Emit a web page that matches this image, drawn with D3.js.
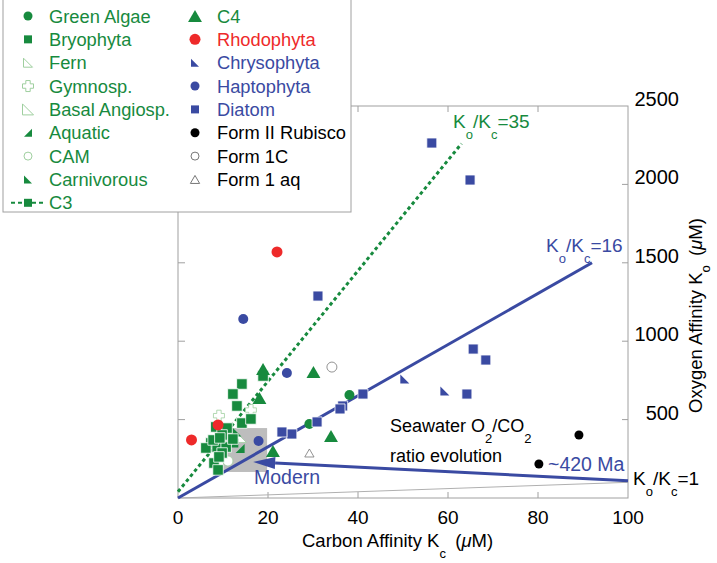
<!DOCTYPE html>
<html><head><meta charset="utf-8">
<script src="https://cdn.jsdelivr.net/npm/d3@7"></script>
<style>body{margin:0;background:#fff}svg{display:block;font-family:"Liberation Sans",Arial,sans-serif}</style>
</head><body>
<svg id="c" width="717" height="563"></svg>
<script>
// ---- data ----
const xTicks = [0, 20, 40, 60, 80, 100];
const yTicks = [500, 1000, 1500, 2000, 2500];
const greenAlgae = [[38.1, 657], [29.2, 472]];
const bryophyta = [[14.2, 727], [12.2, 663], [13.1, 587], [18.9, 778]];
const c3 = [[14.2, 478], [16.2, 504], [8.4, 453], [10.9, 446], [9.8, 402], [7.3, 351], [6.2, 319], [8.7, 325], [10.7, 325], [9.8, 287], [8.0, 223], [8.9, 179], [7.8, 370], [12.2, 376], [9.3, 383], [9.1, 262]];
const fern = [[14.2, 383]];
const gymnosp = [[9.1, 525], [16.2, 561]];
const aquatic = [[13.8, 315], [12.4, 350]];
const cam = [[11.1, 236]];
const carnivorous = [[13.1, 421]];
const c4 = [[30.1, 804], [34.0, 395], [21.1, 300], [18.1, 638], [18.9, 823]];
const rhodophyta = [[22.0, 1569], [3.0, 370], [8.9, 466]];
const chrysophyta = [[50.4, 759], [59.3, 682]];
const haptophyta = [[14.5, 1142], [24.2, 797], [17.9, 363]];
const diatom = [[56.4, 2264], [64.9, 2028], [31.1, 1288], [65.6, 950], [68.4, 880], [64.2, 663], [41.1, 663], [36.6, 587], [36.0, 568], [30.9, 485], [25.3, 408], [23.1, 421]];
const formII = [[89.1, 402], [80.2, 217]];
const form1C = [[34.2, 835]];
const form1aq = [[29.2, 287]];
const line35 = [[0, 40], [63, 2260]];
const line16 = [[0, 0], [92, 1500]];
const line1 = [[0, 0], [100, 100]];
const seawaterArrow = [[100, 110], [16.7, 230]];
const modernBox = [[10, 446], [19.8, 166]];

// ---- styling ----
const GREEN = "#178a3e", LGREEN = "#9fcf9f", BLUE = "#3a4aa2", RED = "#ee2a2a";
const svg = d3.select("#c");
const x = d3.scaleLinear().domain([0, 100]).range([178, 628]);
const y = d3.scaleLinear().domain([0, 2500]).range([498, 106]);

const P = {
  circle: r => `M${-r},0A${r},${r} 0 1,0 ${r},0A${r},${r} 0 1,0 ${-r},0Z`,
  square: s => `M${-s/2},${-s/2}H${s/2}V${s/2}H${-s/2}Z`,
  tri: s => `M0,${-s*0.5}L${s*0.58},${s*0.5}L${-s*0.58},${s*0.5}Z`,
  aq: s => `M${s/2},${-s/2}L${s/2},${s/2}L${-s/2},${s/2}Z`,
  carn: s => `M${-s/2},${-s/2}L${-s/2},${s/2}L${s/2},${s/2}Z`,
  cross: s => { const a = s/2, b = s/5; return `M${-b},${-a}H${b}V${-b}H${a}V${b}H${b}V${a}H${-b}V${b}H${-a}V${-b}H${-b}Z`; }
};
const groups = [
  {name: "Green Algae", data: greenAlgae, shape: "circle", size: 5, fill: GREEN, stroke: "none", tc: GREEN, ls: 4.5},
  {name: "Bryophyta", data: bryophyta, shape: "square", size: 10.5, fill: GREEN, stroke: "#fff", tc: GREEN, ls: 8},
  {name: "Fern", data: fern, shape: "carn", size: 9, fill: "#fff", stroke: LGREEN, tc: GREEN, ls: 9},
  {name: "Gymnosp.", data: gymnosp, shape: "cross", size: 11, fill: "#fff", stroke: LGREEN, tc: GREEN, ls: 11},
  {name: "Basal Angiosp.", data: [], shape: "carn", size: 11, fill: "#fff", stroke: LGREEN, tc: GREEN, ls: 11},
  {name: "Aquatic", data: aquatic, shape: "aq", size: 9, fill: GREEN, stroke: "none", tc: GREEN, ls: 8},
  {name: "CAM", data: cam, shape: "circle", size: 5, fill: "#fff", stroke: LGREEN, tc: GREEN, ls: 4},
  {name: "Carnivorous", data: carnivorous, shape: "carn", size: 9, fill: GREEN, stroke: "none", tc: GREEN, ls: 8},
  {name: "C3", data: c3, shape: "square", size: 10.5, fill: GREEN, stroke: "#fff", tc: GREEN, ls: 8, dash: true},
  {name: "C4", data: c4, shape: "tri", size: 12, fill: GREEN, stroke: "none", tc: GREEN, ls: 12},
  {name: "Rhodophyta", data: rhodophyta, shape: "circle", size: 5.5, fill: RED, stroke: "none", tc: RED, ls: 5.5},
  {name: "Chrysophyta", data: chrysophyta, shape: "carn", size: 9, fill: BLUE, stroke: "none", tc: BLUE, ls: 8},
  {name: "Haptophyta", data: haptophyta, shape: "circle", size: 5, fill: BLUE, stroke: "none", tc: BLUE, ls: 4.5},
  {name: "Diatom", data: diatom, shape: "square", size: 10, fill: BLUE, stroke: "#fff", tc: BLUE, ls: 8},
  {name: "Form II Rubisco", data: formII, shape: "circle", size: 4.5, fill: "#000", stroke: "none", tc: "#000", ls: 4.5},
  {name: "Form 1C", data: form1C, shape: "circle", size: 5, fill: "#fff", stroke: "#777", tc: "#000", ls: 4},
  {name: "Form 1 aq", data: form1aq, shape: "tri", size: 8, fill: "#fff", stroke: "#777", tc: "#000", ls: 8}
];

svg.append("rect").attr("x", x(modernBox[0][0])).attr("y", y(modernBox[0][1]))
  .attr("width", x(modernBox[1][0]) - x(modernBox[0][0])).attr("height", y(modernBox[1][1]) - y(modernBox[0][1]))
  .attr("fill", "#bdbdbd");

const fr = svg.append("g").attr("stroke", "#a0a0a0").attr("fill", "none").attr("stroke-width", 1);
fr.append("rect").attr("x", 178).attr("y", 106).attr("width", 450).attr("height", 392);
xTicks.slice(1, -1).forEach(t => {
  fr.append("line").attr("x1", x(t)).attr("x2", x(t)).attr("y1", 498).attr("y2", 492);
  fr.append("line").attr("x1", x(t)).attr("x2", x(t)).attr("y1", 106).attr("y2", 112);
});
yTicks.slice(0, -1).forEach(t => {
  fr.append("line").attr("x1", 628).attr("x2", 622).attr("y1", y(t)).attr("y2", y(t));
  fr.append("line").attr("x1", 178).attr("x2", 185).attr("y1", y(t)).attr("y2", y(t));
});
svg.append("g").selectAll("text").data(xTicks).join("text")
  .attr("x", d => x(d)).attr("y", 524).attr("text-anchor", "middle").attr("font-size", 19).text(d => d);
svg.append("g").selectAll("text").data(yTicks).join("text")
  .attr("x", 679).attr("y", d => y(d)).attr("text-anchor", "end").attr("font-size", 20).text(d => d);

const xt = svg.append("text").attr("x", 302).attr("y", 547).attr("font-size", 18.5);
xt.append("tspan").text("Carbon Affinity K");
xt.append("tspan").attr("dy", 11).attr("font-size", 13).text("c");
xt.append("tspan").attr("dy", -11).text("\u2002(");
xt.append("tspan").attr("font-style", "italic").text("\u03bc");
xt.append("tspan").text("M)");
const yt = svg.append("text").attr("transform", "translate(702,413) rotate(-90)").attr("font-size", 18.5);
yt.append("tspan").text("Oxygen Affinity K");
yt.append("tspan").attr("dy", 8).attr("font-size", 13).text("o");
yt.append("tspan").attr("dy", -8).text("\u2002(");
yt.append("tspan").attr("font-style", "italic").text("\u03bc");
yt.append("tspan").text("M)");

const lg = d3.line().x(d => x(d[0])).y(d => y(d[1]));
svg.append("path").attr("d", lg(line1)).attr("stroke", "#b0b0b0").attr("stroke-width", 1).attr("fill", "none");
svg.append("path").attr("d", lg(line16)).attr("stroke", BLUE).attr("stroke-width", 3).attr("fill", "none");
svg.append("path").attr("d", lg(line35)).attr("stroke", GREEN).attr("stroke-width", 3).attr("stroke-dasharray", "3.5,3").attr("fill", "none");

const [a0, a1] = seawaterArrow;
const ax0 = x(a0[0]), ay0 = y(a0[1]), ax1 = x(a1[0]), ay1 = y(a1[1]);
const ang = Math.atan2(ay1 - ay0, ax1 - ax0), hl = 22, hw = 6;
const bx = ax1 - hl * Math.cos(ang), by = ay1 - hl * Math.sin(ang);
svg.append("line").attr("x1", ax0).attr("y1", ay0).attr("x2", bx).attr("y2", by).attr("stroke", BLUE).attr("stroke-width", 3);
svg.append("path").attr("fill", BLUE).attr("d",
  `M${ax1},${ay1}L${bx - hw * Math.sin(ang)},${by + hw * Math.cos(ang)}L${bx + hw * Math.sin(ang)},${by - hw * Math.cos(ang)}Z`);

groups.forEach(g => {
  svg.append("g").selectAll("path").data(g.data).join("path")
    .attr("transform", d => `translate(${x(d[0])},${y(d[1])})`)
    .attr("d", P[g.shape](g.size)).attr("fill", g.fill).attr("stroke", g.stroke).attr("stroke-width", 0.8);
});

function ratio(xp, yp, a, b, tail, col) {
  const t = svg.append("text").attr("x", xp).attr("y", yp).attr("font-size", 19).attr("fill", col);
  t.append("tspan").text("K");
  t.append("tspan").attr("dy", 11).attr("font-size", 13).text(a);
  t.append("tspan").attr("dy", -11).text("/K");
  t.append("tspan").attr("dy", 11).attr("font-size", 13).text(b);
  t.append("tspan").attr("dy", -11).text(tail);
}
ratio(453, 128, "o", "c", "=35", GREEN);
ratio(546, 252, "o", "c", "=16", BLUE);
ratio(633, 485, "o", "c", "=1", "#000");
const sw = svg.append("text").attr("x", 390).attr("y", 432).attr("font-size", 18);
sw.append("tspan").text("Seawater O");
sw.append("tspan").attr("dy", 11).attr("font-size", 13).text("2");
sw.append("tspan").attr("dy", -11).text("/CO");
sw.append("tspan").attr("dy", 11).attr("font-size", 13).text("2");
svg.append("text").attr("x", 390).attr("y", 462).attr("font-size", 18).text("ratio evolution");
svg.append("text").attr("x", 548).attr("y", 471).attr("font-size", 19.5).attr("fill", BLUE).text("~420 Ma");
svg.append("text").attr("x", 254).attr("y", 484).attr("font-size", 19.5).attr("fill", BLUE).text("Modern");

const L = svg.append("g");
L.append("rect").attr("x", 3).attr("y", -1).attr("width", 348).attr("height", 213).attr("fill", "#fff").attr("stroke", "#a0a0a0");
groups.forEach((g, i) => {
  const col = i < 9 ? 0 : 1, row = i < 9 ? i : i - 9;
  const cx = col ? 195 : 28, cy = 16 + row * 23.35, tx = col ? 217 : 49;
  if (g.dash) {
    L.append("line").attr("x1", 11).attr("x2", 45).attr("y1", cy).attr("y2", cy)
      .attr("stroke", GREEN).attr("stroke-width", 2).attr("stroke-dasharray", "4,3");
  }
  L.append("path").attr("transform", `translate(${cx},${cy})`).attr("d", P[g.shape](g.ls))
    .attr("fill", g.fill).attr("stroke", g.stroke === "#fff" ? "none" : g.stroke).attr("stroke-width", 1);
  L.append("text").attr("x", tx).attr("y", cy + 6.5).attr("font-size", 18.3).attr("fill", g.tc).text(g.name);
});
</script>
</body></html>
